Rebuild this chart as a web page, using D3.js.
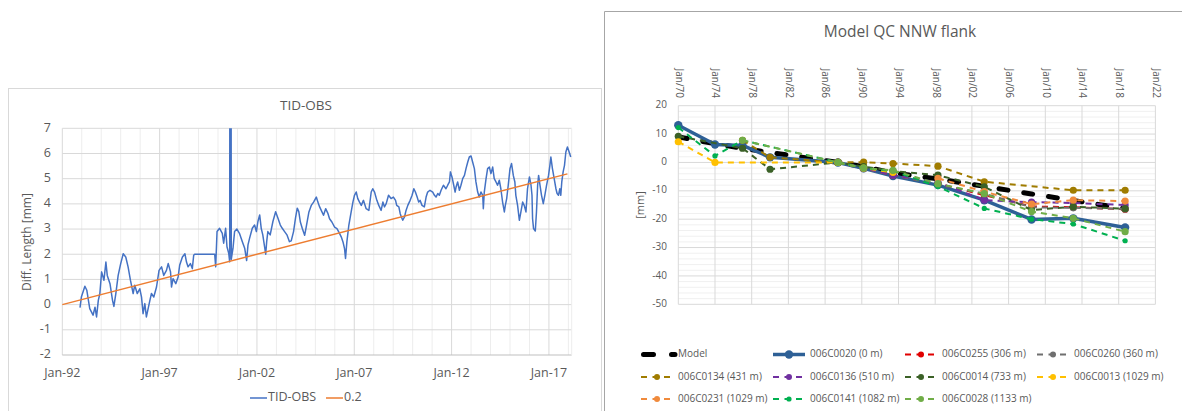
<!DOCTYPE html>
<html><head><meta charset="utf-8">
<script src="https://cdn.jsdelivr.net/npm/d3@7"></script>
<style>
body{margin:0;background:#fff}
svg{display:block}
text{font-family:"Open Sans","Noto Sans",sans-serif;fill:#595959}
</style>
</head><body>
<svg id="c" width="1189" height="411"></svg>
<script>
// ---------------- LEFT CHART DATA ----------------
const obsYears = [1992.91,1992.98,1993.16,1993.26,1993.41,1993.58,1993.68,1993.76,1993.85,1993.93,
1994.02,1994.14,1994.24,1994.31,1994.45,1994.58,1994.65,1994.75,1994.87,1995.0,
1995.13,1995.26,1995.38,1995.5,1995.64,1995.72,1995.85,1995.98,1996.07,1996.15,
1996.24,1996.32,1996.41,1996.5,1996.58,1996.7,1996.84,1996.97,1997.1,1997.21,
1997.35,1997.44,1997.56,1997.61,1997.69,1997.83,1997.95,1998.03,1998.17,1998.3,
1998.38,1998.46,1998.58,1998.68,1998.75,1998.8,1999.83,1999.88,1999.95,2000.08,
2000.22,2000.29,2000.39,2000.46,2000.55,2000.60,2000.61,2000.67,2000.68,2000.77,
2000.85,2000.97,2001.1,2001.25,2001.37,2001.47,2001.54,2001.62,2001.76,2001.88,
2001.97,2002.05,2002.14,2002.22,2002.3,2002.45,2002.5,2002.56,2002.68,2002.82,
2002.96,2003.08,2003.2,2003.3,2003.42,2003.54,2003.67,2003.76,2003.88,2003.98,
2004.07,2004.15,2004.23,2004.33,2004.45,2004.53,2004.67,2004.79,2004.91,2005.05,
2005.13,2005.22,2005.34,2005.42,2005.53,2005.65,2005.73,2005.85,2005.99,2006.11,
2006.21,2006.33,2006.42,2006.5,2006.55,2006.62,2006.72,2006.84,2006.93,2007.01,
2007.1,2007.18,2007.27,2007.36,2007.47,2007.61,2007.75,2007.87,2007.95,2008.04,
2008.16,2008.26,2008.38,2008.47,2008.55,2008.64,2008.76,2008.89,2009.01,2009.12,
2009.18,2009.29,2009.36,2009.42,2009.49,2009.58,2009.66,2009.75,2009.87,2009.97,
2010.06,2010.14,2010.23,2010.31,2010.38,2010.48,2010.6,2010.69,2010.77,2010.89,
2011.03,2011.12,2011.2,2011.29,2011.37,2011.46,2011.58,2011.71,2011.8,2011.89,
2011.94,2012.02,2012.11,2012.18,2012.23,2012.31,2012.4,2012.48,2012.57,2012.66,
2012.74,2012.83,2012.91,2013.0,2013.08,2013.17,2013.25,2013.34,2013.42,2013.51,
2013.6,2013.63,2013.68,2013.77,2013.85,2013.94,2014.02,2014.11,2014.19,2014.28,
2014.36,2014.45,2014.53,2014.62,2014.71,2014.76,2014.83,2014.91,2015.0,2015.08,
2015.17,2015.25,2015.3,2015.39,2015.48,2015.56,2015.65,2015.73,2015.82,2015.9,
2016.0,2016.08,2016.13,2016.16,2016.21,2016.3,2016.36,2016.42,2016.47,2016.54,
2016.62,2016.71,2016.79,2016.88,2016.98,2017.05,2017.1,2017.18,2017.27,2017.36,
2017.42,2017.49,2017.56,2017.61,2017.66,2017.73,2017.8,2017.87,2017.95,2018.04,
2018.12];
const obsValues = [-0.12,0.30,0.73,0.57,-0.16,-0.42,-0.10,-0.49,0.17,0.44,
1.30,0.97,1.69,1.16,0.83,0.17,-0.07,0.44,1.16,1.63,
2.02,1.89,1.50,0.97,0.44,0.77,0.44,0.63,0.30,-0.36,
0.04,-0.49,-0.16,0.17,0.44,0.30,0.70,1.36,1.50,1.16,
1.36,1.63,1.30,0.70,1.03,0.83,1.10,1.56,1.89,2.02,
1.69,1.50,1.63,1.43,1.96,2.00,2.00,1.50,2.90,3.03,
2.83,2.44,3.03,2.30,2.04,1.70,12,12,1.80,2.24,
2.90,3.00,2.83,2.50,2.24,1.75,2.37,2.63,3.03,3.16,
2.90,3.30,3.56,3.03,2.77,2.00,2.50,2.90,2.77,3.30,
3.69,3.43,3.16,3.03,2.90,2.77,2.50,2.53,2.90,3.43,
3.83,3.69,3.28,3.02,2.75,3.08,3.68,3.94,4.07,4.27,
4.07,3.88,3.68,3.55,3.81,3.61,3.41,3.28,3.08,3.02,
2.88,2.69,2.49,2.22,1.83,2.49,3.15,3.68,4.07,4.34,
4.47,4.21,4.07,3.94,4.14,3.81,3.74,4.47,4.60,4.47,
4.14,3.94,3.74,4.07,3.88,4.01,4.34,4.21,4.27,4.14,
3.94,3.88,3.61,3.48,3.35,3.48,3.74,3.94,4.14,4.34,
4.60,4.47,4.27,4.07,4.14,3.94,3.88,4.27,4.47,4.54,
4.47,4.34,4.27,4.41,4.34,4.54,4.74,4.60,4.74,4.87,
5.27,5.07,4.74,4.47,4.67,4.87,4.54,4.74,5.00,5.13,
5.40,5.66,5.86,5.90,5.66,5.40,4.87,4.47,4.27,4.47,
4.34,3.81,4.47,5.00,5.40,5.46,5.20,5.46,5.00,4.87,
4.74,4.94,4.60,4.07,3.68,3.94,4.21,4.74,5.40,5.60,
5.13,4.87,4.34,3.94,3.35,3.68,4.07,3.94,3.68,4.60,
5.07,4.74,4.34,3.41,3.02,2.92,3.68,4.74,5.13,4.74,
4.34,4.01,4.34,4.74,5.13,5.53,5.86,5.40,5.00,4.60,
4.41,4.34,4.60,4.34,4.87,5.27,5.53,6.06,6.26,6.06,
5.86];
const trendYears = [1992, 2017.95];
const trendValues = [0, 5.19];
const leftXTickYears = [1992, 1997, 2002, 2007, 2012, 2017];
const leftXTickLabels = ["Jan-92", "Jan-97", "Jan-02", "Jan-07", "Jan-12", "Jan-17"];
const leftYTicks = [-2, -1, 0, 1, 2, 3, 4, 5, 6, 7];
const leftSeriesNames = ["TID-OBS", "0.2"];

// ---------------- RIGHT CHART DATA ----------------
const campaignYears = [1970, 1974, 1977, 1980, 1987.4, 1990.2, 1993.4, 1998.3, 2003.35, 2008.5, 2013.05, 2018.7];
const modelValues  = [9.0, 6.6, 5.0, 3.5, 0, -1.5, -3.7, -5.8, -8.4, -11.1, -13.4, -16.3];
const s006C0020 = [13.1, 6.3, 6.0, 1.8, 0, -2.1, -4.8, -8.0, -13.3, -20.1, -19.7, -22.9];
const s006C0255 = [null, null, null, null, 0, -2.0, -4.5, -7.5, -11.5, -15.5, -15.8, -16.5];
const s006C0260 = [null, null, null, null, 0, -2.2, -4.5, -7.8, -11.0, -15.8, -16.0, -16.4];
const s006C0134 = [null, null, 7.8, 1.8, 0, 0.1, -0.4, -1.3, -6.8, null, -9.8, -9.8];
const s006C0136 = [null, null, null, null, 0, -2.0, -4.5, -7.0, -13.3, -14.0, -14.3, -15.0];
const s006C0014 = [9.2, null, 5.0, -2.4, 0, -1.5, -3.0, -4.5, -8.6, -16.8, -15.6, -16.3];
const s006C0013 = [7.3, 0, null, null, 0, -2.0, -3.5, null, null, null, null, null];
const s006C0231 = [null, null, null, null, null, null, null, -5.6, -10.3, -14.7, -13.3, -13.6];
const s006C0141 = [12.3, 2.3, 7.8, null, 0, -2.0, -3.0, -8.5, -16.2, -20.0, -21.7, -27.6];
const s006C0028 = [null, null, 7.8, null, 0, -2.0, -2.8, -7.5, -11.0, -17.3, -19.7, -24.4];
const rightTickYears = [1970,1974,1978,1982,1986,1990,1994,1998,2002,2006,2010,2014,2018,2022];
const rightTickLabels = ["Jan/70","Jan/74","Jan/78","Jan/82","Jan/86","Jan/90","Jan/94","Jan/98","Jan/02","Jan/06","Jan/10","Jan/14","Jan/18","Jan/22"];
const rightYTicks = [20, 10, 0, -10, -20, -30, -40, -50];
const rightSeriesNames = ["Model","006C0020 (0 m)","006C0255 (306 m)","006C0260 (360 m)","006C0134 (431 m)","006C0136 (510 m)","006C0014 (733 m)","006C0013 (1029 m)","006C0231 (1029 m)","006C0141 (1082 m)","006C0028 (1133 m)"];

const svg = d3.select("#c");

// ================= LEFT CHART =================
const gl = svg.append("g");
gl.append("rect").attr("x", 8.5).attr("y", 88.5).attr("width", 593).attr("height", 340)
  .attr("fill", "#fff").attr("stroke", "#D9D9D9");
gl.append("text").attr("x", 306).attr("y", 106).attr("text-anchor", "middle")
  .attr("dominant-baseline", "middle").style("font-size", "13.5px").text("TID-OBS");

const xL = d3.scaleLinear().domain([1992, 2018.17]).range([62.3, 571.7]);
const yL = d3.scaleLinear().domain([-2, 7]).range([355, 128.3]);

gl.append("g").selectAll("line").data(d3.range(1993, 2019).filter(y => !leftXTickYears.includes(y)))
  .join("line").attr("x1", d => xL(d)).attr("x2", d => xL(d)).attr("y1", yL(7)).attr("y2", yL(-2))
  .attr("stroke", "#EDEDED").attr("stroke-width", 1);
gl.append("g").selectAll("line").data(leftXTickYears)
  .join("line").attr("x1", d => xL(d)).attr("x2", d => xL(d)).attr("y1", yL(7)).attr("y2", yL(-2))
  .attr("stroke", "#D9D9D9").attr("stroke-width", 1);
gl.append("g").selectAll("line").data(leftYTicks)
  .join("line").attr("x1", xL.range()[0]).attr("x2", xL.range()[1]).attr("y1", d => yL(d)).attr("y2", d => yL(d))
  .attr("stroke", d => d === -2 ? "#BFBFBF" : "#D9D9D9").attr("stroke-width", 1);
gl.append("line").attr("x1", xL.range()[1]).attr("x2", xL.range()[1]).attr("y1", yL(7)).attr("y2", yL(-2))
  .attr("stroke", "#EDEDED");

gl.append("g").selectAll("text").data(leftYTicks).join("text")
  .attr("x", 51).attr("y", d => yL(d)).attr("text-anchor", "end").attr("dominant-baseline", "middle")
  .style("font-size", "12.5px").text(d => d);
gl.append("g").selectAll("text").data(leftXTickYears).join("text")
  .attr("x", d => xL(d)).attr("y", 374).attr("text-anchor", "middle").attr("dominant-baseline", "middle")
  .style("font-size", "12.5px").text((d, i) => leftXTickLabels[i]);
gl.append("text").attr("transform", "translate(28,242) rotate(-90)").attr("text-anchor", "middle")
  .attr("dominant-baseline", "middle").style("font-size", "12px").text("Diff. Length [mm]");

svg.append("clipPath").attr("id", "clipL").append("rect")
  .attr("x", 62).attr("y", 128.3).attr("width", 510).attr("height", 227);

const obs = obsYears.map((y, i) => ({x: y, v: obsValues[i]}));
const trend = trendYears.map((y, i) => ({x: y, v: trendValues[i]}));
const lineL = d3.line().x(d => xL(d.x)).y(d => yL(d.v));
gl.append("path").datum(obs).attr("clip-path", "url(#clipL)").attr("d", lineL)
  .attr("fill", "none").attr("stroke", "#4472C4").attr("stroke-width", 1.5).attr("stroke-linejoin", "round");
gl.append("path").datum(trend).attr("d", lineL)
  .attr("fill", "none").attr("stroke", "#ED7D31").attr("stroke-width", 1.5);

const legL = [{name: leftSeriesNames[0], c: "#4472C4", x: 250}, {name: leftSeriesNames[1], c: "#ED7D31", x: 326}];
legL.forEach(d => {
  gl.append("line").attr("x1", d.x).attr("x2", d.x + 17).attr("y1", 398).attr("y2", 398)
    .attr("stroke", d.c).attr("stroke-width", 1.5);
  gl.append("text").attr("x", d.x + 18).attr("y", 398).attr("dominant-baseline", "middle")
    .style("font-size", "12.5px").text(d.name);
});

// ================= RIGHT CHART =================
const gr = svg.append("g");
gr.append("rect").attr("x", 604).attr("y", 11).attr("width", 578).attr("height", 420).attr("fill", "#fff");
gr.append("path").attr("d", "M604.5,431V11.5H1182").attr("fill", "none").attr("stroke", "#A6A6A6");
gr.append("text").attr("x", 900).attr("y", 33).attr("text-anchor", "middle")
  .attr("dominant-baseline", "middle").style("font-size", "15.5px").text("Model QC NNW flank");

const xR = d3.scaleLinear().domain([1970, 2022]).range([678.3, 1155.4]);
const yR = d3.scaleLinear().domain([-50, 20]).range([304.3, 105.7]);

gr.append("g").selectAll("line").data(d3.range(-50, 21, 2).filter(v => v % 10 !== 0))
  .join("line").attr("x1", xR(1970)).attr("x2", xR(2022)).attr("y1", d => yR(d)).attr("y2", d => yR(d))
  .attr("stroke", "#F0F0F0");
gr.append("g").selectAll("line").data(rightYTicks)
  .join("line").attr("x1", xR(1970)).attr("x2", xR(2022)).attr("y1", d => yR(d)).attr("y2", d => yR(d))
  .attr("stroke", "#D9D9D9");
gr.append("g").selectAll("line").data(rightTickYears)
  .join("line").attr("x1", d => xR(d)).attr("x2", d => xR(d)).attr("y1", yR(20)).attr("y2", yR(-50))
  .attr("stroke", "#D9D9D9");

gr.append("g").selectAll("text").data(rightYTicks).join("text")
  .attr("x", 667).attr("y", d => yR(d)).attr("text-anchor", "end").attr("dominant-baseline", "middle")
  .style("font-size", "10px").text(d => d);
gr.append("g").selectAll("text").data(rightTickYears).join("text")
  .attr("transform", d => `translate(${xR(d)},98) rotate(90)`).attr("text-anchor", "end")
  .attr("dominant-baseline", "middle").style("font-size", "10px").text((d, i) => rightTickLabels[i]);
gr.append("text").attr("transform", "translate(641,205) rotate(-90)").attr("text-anchor", "middle")
  .attr("dominant-baseline", "middle").style("font-size", "11px").text("[mm]");

const seriesValues = [modelValues, s006C0020, s006C0255, s006C0260, s006C0134, s006C0136, s006C0014, s006C0013, s006C0231, s006C0141, s006C0028];
const seriesColors = ["#000000", "#2E6096", "#E00000", "#6F6F6F", "#A07C00", "#7030A0", "#3B6127", "#FFC000", "#F08A3C", "#00B050", "#70AD47"];
const series = rightSeriesNames.map((name, i) => {
  const base = {name, color: seriesColors[i], values: seriesValues[i]};
  if (i === 0) return Object.assign(base, {w: 5, dash: "9,16", cap: "round", r: 0});
  if (i === 1) return Object.assign(base, {w: 3.5, dash: null, cap: "butt", r: 4.2});
  if (i === 9) return Object.assign(base, {w: 2, dash: "6,5", cap: "butt", r: 2.6});
  return Object.assign(base, {w: 2, dash: "6,5", cap: "butt", r: 3.6});
});

const lineR = d3.line().x(d => xR(d.x)).y(d => yR(d.v));
series.forEach(s => {
  const pts = campaignYears.map((y, i) => ({x: y, v: s.values[i]})).filter(d => d.v !== null);
  const g = gr.append("g");
  g.append("path").datum(pts).attr("d", lineR).attr("fill", "none").attr("stroke", s.color)
    .attr("stroke-width", s.w).attr("stroke-dasharray", s.dash).attr("stroke-linecap", s.cap)
    .attr("stroke-linejoin", "round");
  if (s.r > 0) {
    g.selectAll("circle").data(pts).join("circle").attr("cx", d => xR(d.x)).attr("cy", d => yR(d.v))
      .attr("r", s.r).attr("fill", s.color);
  }
});

const legCols = [641, 773, 905, 1037];
const legRows = [354.5, 377, 399];
series.forEach((s, i) => {
  const col = i % 4, row = Math.floor(i / 4);
  const x = legCols[col], y = legRows[row];
  const g = gr.append("g");
  if (i === 0) {
    g.append("line").attr("x1", x + 2.5).attr("x2", x + 34).attr("y1", y).attr("y2", y)
      .attr("stroke", "#000").attr("stroke-width", 5).attr("stroke-dasharray", "10,18").attr("stroke-linecap", "round");
  } else {
    g.append("line").attr("x1", x).attr("x2", x + 32).attr("y1", y).attr("y2", y)
      .attr("stroke", s.color).attr("stroke-width", s.w).attr("stroke-dasharray", i === 1 ? null : "6,5.5");
    g.append("circle").attr("cx", x + 16).attr("cy", y).attr("r", i === 1 ? s.r : Math.min(s.r, 3)).attr("fill", s.color);
  }
  g.append("text").attr("x", x + 37).attr("y", y).attr("dominant-baseline", "middle")
    .style("font-size", "10px").text(s.name);
});
</script>
</body></html>
